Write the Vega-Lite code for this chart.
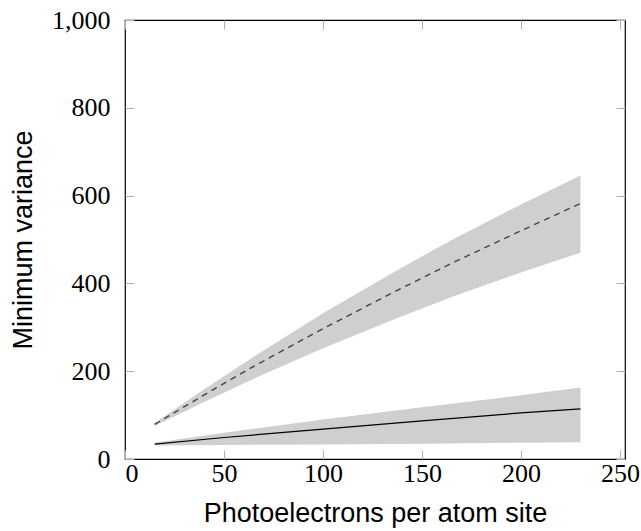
{
  "$schema": "https://vega.github.io/schema/vega-lite/v6.json",
  "autosize": {"type": "none"},
  "padding": {"left": 125, "top": 20, "right": 16, "bottom": 72},
  "width": 500,
  "height": 439,
  "background": "white",
  "config": {
    "view": {"stroke": "black", "strokeWidth": 1.2},
    "axis": {
      "grid": false,
      "domain": false,
      "tickSize": -9,
      "tickColor": "#b0b0b0",
      "tickWidth": 1,
      "labelFont": "Liberation Serif",
      "labelFontSize": 26,
      "labelColor": "black",
      "titleFont": "Liberation Sans",
      "titleFontSize": 27,
      "titleFontWeight": "normal",
      "titleColor": "black"
    }
  },
  "data": {
    "values": [
      {"x": 15, "series": "dashed", "mid": 79, "lo": 75, "hi": 82},
      {"x": 40, "series": "dashed", "mid": 146, "lo": 130, "hi": 159},
      {"x": 65, "series": "dashed", "mid": 211, "lo": 183, "hi": 233},
      {"x": 100, "series": "dashed", "mid": 297, "lo": 252, "hi": 332},
      {"x": 137, "series": "dashed", "mid": 383, "lo": 320, "hi": 429},
      {"x": 165, "series": "dashed", "mid": 446, "lo": 369, "hi": 499},
      {"x": 200, "series": "dashed", "mid": 520, "lo": 425, "hi": 580},
      {"x": 230, "series": "dashed", "mid": 582, "lo": 470, "hi": 646},
      {"x": 15, "series": "solid", "mid": 34, "lo": 31, "hi": 37},
      {"x": 50, "series": "solid", "mid": 49, "lo": 32, "hi": 60},
      {"x": 100, "series": "solid", "mid": 68, "lo": 33, "hi": 90},
      {"x": 150, "series": "solid", "mid": 87, "lo": 35, "hi": 118},
      {"x": 200, "series": "solid", "mid": 105, "lo": 37, "hi": 145},
      {"x": 230, "series": "solid", "mid": 114, "lo": 38, "hi": 163}
    ]
  },
  "resolve": {"axis": {"x": "independent", "y": "independent"}},
  "layer": [
    {
      "mark": {"type": "area", "color": "#cfcfcf", "opacity": 1},
      "encoding": {
        "x": {"field": "x", "type": "quantitative", "scale": {"domain": [0, 252.5], "nice": false},
              "axis": {"orient": "bottom", "values": [0, 50, 100, 150, 200, 250], "title": "Photoelectrons per atom site", "labelPadding": 10, "titlePadding": 14}},
        "y": {"field": "lo", "type": "quantitative", "scale": {"domain": [0, 1000], "nice": false},
              "axis": {"orient": "left", "values": [0, 200, 400, 600, 800, 1000], "format": ",d", "title": "Minimum variance", "labelPadding": 24, "titlePadding": 14}},
        "y2": {"field": "hi"},
        "detail": {"field": "series"}
      }
    },
    {
      "transform": [{"filter": "datum.series == 'dashed'"}],
      "mark": {"type": "line", "color": "#444444", "strokeWidth": 1.4, "strokeDash": [6, 5]},
      "encoding": {
        "x": {"field": "x", "type": "quantitative",
              "axis": {"orient": "top", "values": [0, 50, 100, 150, 200, 250], "labels": false, "title": null}},
        "y": {"field": "mid", "type": "quantitative",
              "axis": {"orient": "right", "values": [0, 200, 400, 600, 800, 1000], "labels": false, "title": null}}
      }
    },
    {
      "transform": [{"filter": "datum.series == 'solid'"}],
      "mark": {"type": "line", "color": "black", "strokeWidth": 1.2},
      "encoding": {
        "x": {"field": "x", "type": "quantitative", "axis": null},
        "y": {"field": "mid", "type": "quantitative", "axis": null}
      }
    }
  ]
}
